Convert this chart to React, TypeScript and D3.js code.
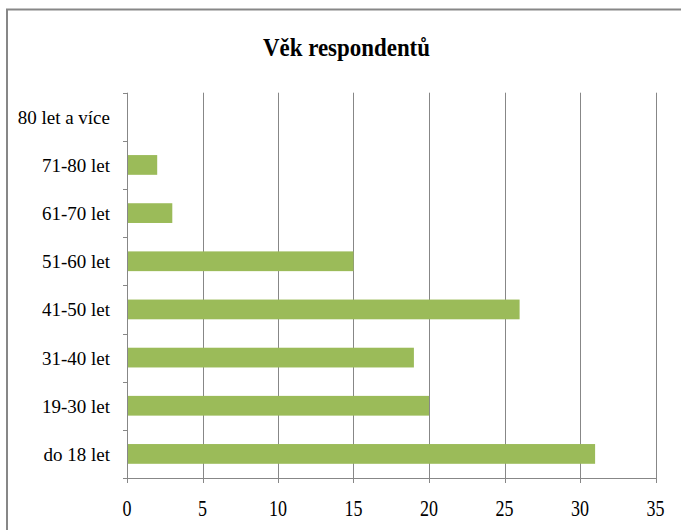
import React from "react";
import * as d3 from "d3";

const categories = ["do 18 let", "19-30 let", "31-40 let", "41-50 let", "51-60 let", "61-70 let", "71-80 let", "80 let a více"];
const values = [31, 20, 19, 26, 15, 3, 2, 0];
const xTicks = [0, 5, 10, 15, 20, 25, 30, 35];
const title = "Věk respondentů";

export default function App() {
  const W = 681, H = 530;
  const left = 127, right = 655.5, top = 92.7, bottom = 478;
  const x = d3.scaleLinear().domain([0, 35]).range([left, right]);
  const y = d3.scaleBand<string>().domain([...categories].reverse()).range([top, bottom]).paddingInner(0.59).paddingOuter(0.295);
  const band = (bottom - top) / categories.length;
  const gridColor = "#878787";
  const font = "'Liberation Serif', 'Times New Roman', serif";
  return (
    <svg width={W} height={H} style={{ position: "absolute", left: 0, top: 0, background: "#fff" }}>
      <rect x={7} y={9.5} width={800} height={700} fill="#fff" stroke="#878787" strokeWidth={2} />
      <text x={346.5} y={56} textAnchor="middle" fontFamily={font} fontWeight="bold" fontSize={26} textLength={167} lengthAdjust="spacingAndGlyphs">{title}</text>
      {xTicks.map((t) => (
        <g key={t}>
          <line x1={Math.round(x(t)) + 0.5} x2={Math.round(x(t)) + 0.5} y1={top} y2={t === 0 ? bottom : bottom + 5} stroke={gridColor} strokeWidth={1} />
          <line x1={Math.round(x(t)) + 0.5} x2={Math.round(x(t)) + 0.5} y1={bottom} y2={bottom + 5} stroke={gridColor} strokeWidth={1} />
          <text x={x(t)} y={516} textAnchor="middle" fontFamily={font} fontSize={24} textLength={String(t).length * 9} lengthAdjust="spacingAndGlyphs">{t}</text>
        </g>
      ))}
      <line x1={left - 4} x2={right + 1} y1={bottom + 0.5} y2={bottom + 0.5} stroke={gridColor} strokeWidth={1} />
      {d3.range(categories.length + 1).map((i) => (
        <line key={i} x1={left - 4} x2={left} y1={Math.round(top + i * band) + 0.5} y2={Math.round(top + i * band) + 0.5} stroke={gridColor} strokeWidth={1} />
      ))}
      {categories.map((c, i) => (
        <g key={c}>
          <rect x={x(0) + 1} y={y(c)!} width={Math.max(0, x(values[i]) - x(0) - 1)} height={y.bandwidth()} fill="#9BBB59" />
          <text x={110} y={y(c)! + y.bandwidth() / 2 + 7} textAnchor="end" fontFamily={font} fontSize={19}>{c}</text>
        </g>
      ))}
    </svg>
  );
}
